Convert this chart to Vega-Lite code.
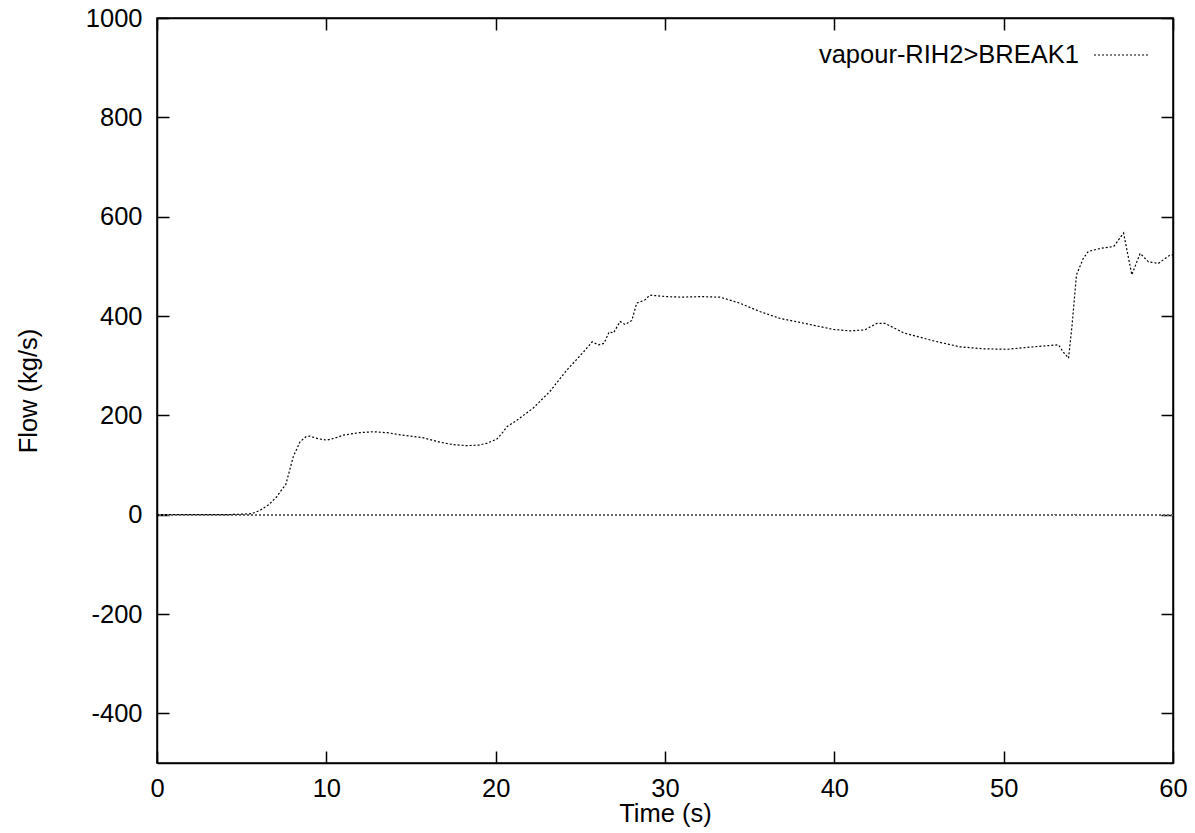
{
  "$schema": "https://vega.github.io/schema/vega-lite/v6.json",
  "width": 1016,
  "height": 745,
  "autosize": "none",
  "padding": {"left": 157, "top": 18, "right": 22, "bottom": 70},
  "background": "white",
  "config": {
    "font": "Liberation Sans",
    "view": {"stroke": "black", "strokeWidth": 1.5},
    "axis": {
      "grid": false,
      "domainColor": "black",
      "domainWidth": 1.5,
      "tickColor": "black",
      "tickWidth": 1.5,
      "tickSize": -12,
      "labelFlush": false,
      "labelOverlap": false,
      "labelExpr": "'' + datum.value",
      "labelFont": "Liberation Sans",
      "labelFontSize": 25.5,
      "labelColor": "black",
      "titleFont": "Liberation Sans",
      "titleFontSize": 25.5,
      "titleFontWeight": "normal",
      "titleColor": "black"
    }
  },
  "data": {
    "values": [
      {"t": 0, "flow": 0, "series": "vapour-RIH2>BREAK1"},
      {"t": 2, "flow": 0, "series": "vapour-RIH2>BREAK1"},
      {"t": 4, "flow": 0, "series": "vapour-RIH2>BREAK1"},
      {"t": 5, "flow": 1, "series": "vapour-RIH2>BREAK1"},
      {"t": 5.6, "flow": 2, "series": "vapour-RIH2>BREAK1"},
      {"t": 6.1, "flow": 9, "series": "vapour-RIH2>BREAK1"},
      {"t": 6.6, "flow": 20, "series": "vapour-RIH2>BREAK1"},
      {"t": 7.07, "flow": 36, "series": "vapour-RIH2>BREAK1"},
      {"t": 7.4, "flow": 52, "series": "vapour-RIH2>BREAK1"},
      {"t": 7.6, "flow": 60, "series": "vapour-RIH2>BREAK1"},
      {"t": 7.76, "flow": 80, "series": "vapour-RIH2>BREAK1"},
      {"t": 8.05, "flow": 117, "series": "vapour-RIH2>BREAK1"},
      {"t": 8.45, "flow": 147, "series": "vapour-RIH2>BREAK1"},
      {"t": 8.8, "flow": 157, "series": "vapour-RIH2>BREAK1"},
      {"t": 9.04, "flow": 158, "series": "vapour-RIH2>BREAK1"},
      {"t": 9.5, "flow": 153, "series": "vapour-RIH2>BREAK1"},
      {"t": 10.02, "flow": 150, "series": "vapour-RIH2>BREAK1"},
      {"t": 10.5, "flow": 154, "series": "vapour-RIH2>BREAK1"},
      {"t": 11.0, "flow": 160, "series": "vapour-RIH2>BREAK1"},
      {"t": 11.9, "flow": 165, "series": "vapour-RIH2>BREAK1"},
      {"t": 12.78, "flow": 167, "series": "vapour-RIH2>BREAK1"},
      {"t": 13.6, "flow": 165, "series": "vapour-RIH2>BREAK1"},
      {"t": 14.5, "flow": 160, "series": "vapour-RIH2>BREAK1"},
      {"t": 15.7, "flow": 155, "series": "vapour-RIH2>BREAK1"},
      {"t": 16.7, "flow": 146, "series": "vapour-RIH2>BREAK1"},
      {"t": 17.5, "flow": 141, "series": "vapour-RIH2>BREAK1"},
      {"t": 18.3, "flow": 139, "series": "vapour-RIH2>BREAK1"},
      {"t": 19.0, "flow": 140, "series": "vapour-RIH2>BREAK1"},
      {"t": 19.5, "flow": 144, "series": "vapour-RIH2>BREAK1"},
      {"t": 20.06, "flow": 152, "series": "vapour-RIH2>BREAK1"},
      {"t": 20.4, "flow": 165, "series": "vapour-RIH2>BREAK1"},
      {"t": 20.66, "flow": 177, "series": "vapour-RIH2>BREAK1"},
      {"t": 21.25, "flow": 190, "series": "vapour-RIH2>BREAK1"},
      {"t": 21.8, "flow": 204, "series": "vapour-RIH2>BREAK1"},
      {"t": 22.2, "flow": 214, "series": "vapour-RIH2>BREAK1"},
      {"t": 23.2, "flow": 248, "series": "vapour-RIH2>BREAK1"},
      {"t": 24.2, "flow": 291, "series": "vapour-RIH2>BREAK1"},
      {"t": 25.2, "flow": 328, "series": "vapour-RIH2>BREAK1"},
      {"t": 25.7, "flow": 348, "series": "vapour-RIH2>BREAK1"},
      {"t": 26.07, "flow": 342, "series": "vapour-RIH2>BREAK1"},
      {"t": 26.4, "flow": 345, "series": "vapour-RIH2>BREAK1"},
      {"t": 26.7, "flow": 368, "series": "vapour-RIH2>BREAK1"},
      {"t": 26.96, "flow": 366, "series": "vapour-RIH2>BREAK1"},
      {"t": 27.35, "flow": 389, "series": "vapour-RIH2>BREAK1"},
      {"t": 27.64, "flow": 383, "series": "vapour-RIH2>BREAK1"},
      {"t": 28.04, "flow": 391, "series": "vapour-RIH2>BREAK1"},
      {"t": 28.33, "flow": 426, "series": "vapour-RIH2>BREAK1"},
      {"t": 28.8, "flow": 432, "series": "vapour-RIH2>BREAK1"},
      {"t": 29.1, "flow": 442, "series": "vapour-RIH2>BREAK1"},
      {"t": 30.1, "flow": 439, "series": "vapour-RIH2>BREAK1"},
      {"t": 31.0, "flow": 438, "series": "vapour-RIH2>BREAK1"},
      {"t": 32.1, "flow": 439, "series": "vapour-RIH2>BREAK1"},
      {"t": 33.25, "flow": 438, "series": "vapour-RIH2>BREAK1"},
      {"t": 34.4, "flow": 426, "series": "vapour-RIH2>BREAK1"},
      {"t": 35.6, "flow": 409, "series": "vapour-RIH2>BREAK1"},
      {"t": 36.8, "flow": 395, "series": "vapour-RIH2>BREAK1"},
      {"t": 38.0, "flow": 387, "series": "vapour-RIH2>BREAK1"},
      {"t": 38.4, "flow": 384, "series": "vapour-RIH2>BREAK1"},
      {"t": 39.95, "flow": 373, "series": "vapour-RIH2>BREAK1"},
      {"t": 40.9, "flow": 370, "series": "vapour-RIH2>BREAK1"},
      {"t": 41.8, "flow": 372, "series": "vapour-RIH2>BREAK1"},
      {"t": 42.5, "flow": 385, "series": "vapour-RIH2>BREAK1"},
      {"t": 43.0, "flow": 385, "series": "vapour-RIH2>BREAK1"},
      {"t": 44.1, "flow": 366, "series": "vapour-RIH2>BREAK1"},
      {"t": 45.85, "flow": 350, "series": "vapour-RIH2>BREAK1"},
      {"t": 47.4, "flow": 338, "series": "vapour-RIH2>BREAK1"},
      {"t": 48.8, "flow": 334, "series": "vapour-RIH2>BREAK1"},
      {"t": 50.2, "flow": 333, "series": "vapour-RIH2>BREAK1"},
      {"t": 51.76, "flow": 338, "series": "vapour-RIH2>BREAK1"},
      {"t": 53.24, "flow": 342, "series": "vapour-RIH2>BREAK1"},
      {"t": 53.5, "flow": 328, "series": "vapour-RIH2>BREAK1"},
      {"t": 53.83, "flow": 315, "series": "vapour-RIH2>BREAK1"},
      {"t": 54.03, "flow": 378, "series": "vapour-RIH2>BREAK1"},
      {"t": 54.3, "flow": 483, "series": "vapour-RIH2>BREAK1"},
      {"t": 54.7, "flow": 516, "series": "vapour-RIH2>BREAK1"},
      {"t": 55.0, "flow": 530, "series": "vapour-RIH2>BREAK1"},
      {"t": 55.7, "flow": 536, "series": "vapour-RIH2>BREAK1"},
      {"t": 56.5, "flow": 540, "series": "vapour-RIH2>BREAK1"},
      {"t": 57.08, "flow": 567, "series": "vapour-RIH2>BREAK1"},
      {"t": 57.57, "flow": 483, "series": "vapour-RIH2>BREAK1"},
      {"t": 58.06, "flow": 526, "series": "vapour-RIH2>BREAK1"},
      {"t": 58.55, "flow": 509, "series": "vapour-RIH2>BREAK1"},
      {"t": 59.14, "flow": 506, "series": "vapour-RIH2>BREAK1"},
      {"t": 59.83, "flow": 523, "series": "vapour-RIH2>BREAK1"},
      {"t": 60, "flow": 523, "series": "vapour-RIH2>BREAK1"}
    ]
  },
  "resolve": {"axis": {"x": "independent", "y": "independent"}},
  "layer": [
    {
      "mark": {"type": "rule", "color": "#666666", "strokeWidth": 1, "strokeDash": [2, 2]},
      "encoding": {
        "y": {
          "datum": 0,
          "type": "quantitative",
          "scale": {"domain": [-500, 1000], "nice": false},
          "axis": {"orient": "right", "labels": false, "title": null, "values": [-400, -200, 0, 200, 400, 600, 800, 1000]}
        }
      }
    },
    {
      "mark": {"type": "line", "strokeWidth": 1.2, "strokeDash": [2, 2], "interpolate": "linear"},
      "encoding": {
        "x": {
          "field": "t",
          "type": "quantitative",
          "scale": {"domain": [0, 60], "nice": false},
          "axis": {"title": "Time (s)", "values": [0, 10, 20, 30, 40, 50, 60], "labelPadding": 25, "titlePadding": 0}
        },
        "y": {
          "field": "flow",
          "type": "quantitative",
          "scale": {"domain": [-500, 1000], "nice": false},
          "axis": {"title": "Flow (kg/s)", "values": [-400, -200, 0, 200, 400, 600, 800, 1000], "labelPadding": 27, "titlePadding": 44}
        },
        "color": {
          "field": "series",
          "type": "nominal",
          "scale": {"range": ["black"]},
          "legend": {
            "title": null,
            "orient": "none",
            "legendX": 936,
            "legendY": 9,
            "padding": 0,
            "symbolType": "stroke",
            "symbolSize": 2916,
            "symbolStrokeWidth": 1.2,
            "symbolDash": [2, 2],
            "labelAlign": "right",
            "labelOffset": -70,
            "labelFont": "Liberation Sans",
            "labelFontSize": 25.5,
            "labelColor": "black",
            "labelLimit": 500
          }
        }
      }
    },
    {
      "mark": {"type": "line", "opacity": 0},
      "encoding": {
        "x": {
          "field": "t",
          "type": "quantitative",
          "scale": {"domain": [0, 60], "nice": false},
          "axis": {"orient": "top", "labels": false, "title": null, "values": [0, 10, 20, 30, 40, 50, 60]}
        },
        "y": {"field": "flow", "type": "quantitative", "axis": null}
      }
    }
  ]
}
